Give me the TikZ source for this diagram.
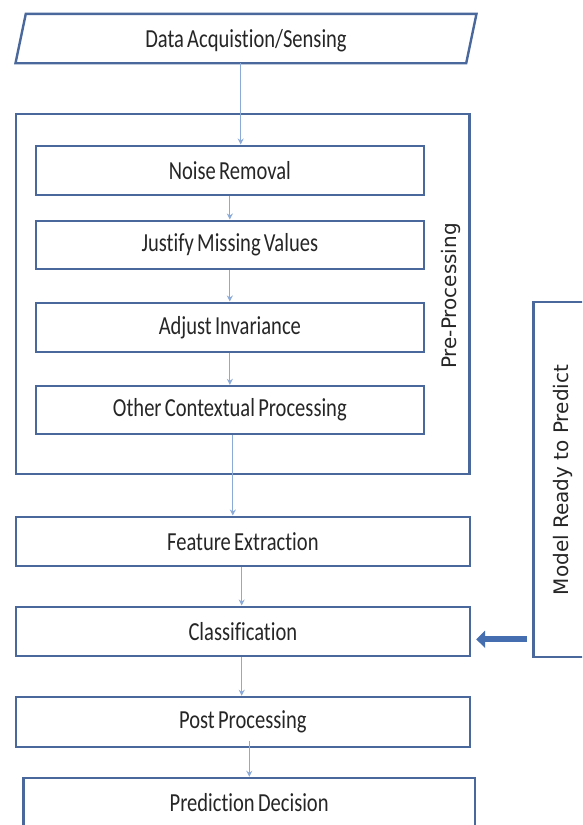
\documentclass[tikz,border=0pt]{standalone}
\usepackage{fontspec}
\setmainfont{Carlito}[FakeStretch=0.79, WordSpace=0.7, Ligatures=NoCommon]
\newfontfamily\labelfont{DejaVu Sans}
\usetikzlibrary{arrows.meta}

\definecolor{boxblue}{RGB}{74,104,156}
\definecolor{flowblue}{RGB}{140,170,215}
\definecolor{fatarrow}{RGB}{68,110,175}
\definecolor{ink}{RGB}{38,38,38}

\begin{document}
\begin{tikzpicture}[x=1pt,y=-1pt,
  stage/.style={draw=boxblue, line width=2.4pt, rectangle, inner sep=0pt,
    text=ink, font=\fontsize{26}{30}\selectfont},
  frame/.style={draw=boxblue, line width=2.4pt, rectangle, inner sep=0pt},
  flow/.style={draw=flowblue, line width=1.2pt, -{Stealth[length=6pt,width=6pt]}},
  sidelabel/.style={rotate=90, text=ink, inner sep=0pt,
    font=\labelfont\fontsize{20}{24}\selectfont},
  feed/.style={draw=fatarrow, line width=6pt, -{Triangle[length=9pt,width=17pt]}}]

\useasboundingbox (0,0) rectangle (582,825);
\clip (0,0) rectangle (582,825);
\fill[white] (0,0) rectangle (582,825);

% input stage (parallelogram drawn around a plain text node)
\node[inner sep=0pt, minimum width=450.3pt, minimum height=49pt] (data) at (246,38.5) {};
\draw[boxblue, line width=2.4pt, line join=miter]
  ([xshift=5.15pt]data.north west) -- ([xshift=5.15pt]data.north east)
  -- ([xshift=-5.15pt]data.south east) -- ([xshift=-5.15pt]data.south west) -- cycle;
\node[text=ink, font=\fontsize{26}{30}\selectfont] (datatext) at (246,41) {Data Acquistion/Sensing};

% pre-processing group
\node[frame, minimum width=453.6pt, minimum height=360pt] (pre) at (242.5,294) {};
\node[sidelabel] (prelabel) at (451,296) {Pre-Processing};

\node[stage, minimum width=388.3pt, minimum height=49.3pt] (noise)   at (229.85,170.35) {Noise Removal};
\node[stage, minimum width=388.3pt, minimum height=48.3pt] (justify) at (229.85,244.85) {Justify Missing Values};
\node[stage, minimum width=388.3pt, minimum height=49pt]   (adjust)  at (229.85,327.2)  {Adjust Invariance};
\node[stage, minimum width=388.3pt, minimum height=48pt]   (other)   at (229.85,410)    {Other Contextual Processing};

% main chain
\node[stage, minimum width=454.3pt, minimum height=49pt]   (feature) at (242.85,541.2)  {Feature Extraction};
\node[stage, minimum width=454.3pt, minimum height=49.3pt] (class)   at (242.85,631.35) {Classification};
\node[stage, minimum width=454.3pt, minimum height=49.7pt] (post)    at (242.85,721.85) {Post Processing};
\node[stage, minimum width=451.7pt, minimum height=49pt]   (pred)    at (249.15,802.5)  {Prediction Decision};

% trained model
\node[frame, minimum width=59.7pt, minimum height=354.7pt] (model) at (563.15,479.35) {};
\node[sidelabel] (modellabel) at (563,480) {Model Ready to Predict};

% connectors
\draw[flow] ([xshift=-5.3pt]data.south) -- ([xshift=-5.3pt]data.south |- noise.north);
\draw[flow] (noise.south) -- (justify.north);
\draw[flow] (justify.south) -- (adjust.north);
\draw[flow] (adjust.south) -- (other.north);
\draw[flow] ([xshift=3pt]other.south) -- ([xshift=3pt]other.south |- feature.north);
\draw[flow] ([xshift=-1.15pt]feature.south) -- ([xshift=-1.15pt]class.north);
\draw[flow] ([xshift=-1.15pt]class.south) -- ([xshift=-1.15pt]post.north);
\draw[flow] ([xshift=6.45pt,yshift=7pt]post.south) -- ([xshift=6.45pt]post.south |- pred.north);

\coordinate (feedy) at (0,639.3);
\draw[feed, shorten <=5.5pt, shorten >=5pt] (feedy -| model.west) -- (feedy -| class.east);

\end{tikzpicture}
\end{document}
